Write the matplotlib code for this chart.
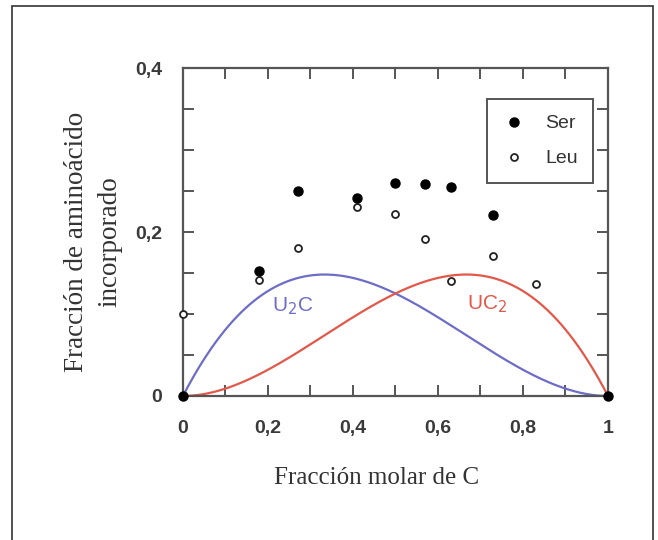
import numpy as np
import matplotlib
matplotlib.use("Agg")
import matplotlib.pyplot as plt
from matplotlib.patches import Rectangle
from matplotlib.ticker import MultipleLocator, FixedLocator, FuncFormatter

ser_x = [0.0, 0.18, 0.27, 0.41, 0.50, 0.57, 0.63, 0.73, 1.0]
ser_y = [0.0, 0.152, 0.250, 0.241, 0.260, 0.258, 0.255, 0.221, 0.0]
leu_x = [0.0, 0.18, 0.27, 0.41, 0.50, 0.57, 0.63, 0.73, 0.83]
leu_y = [0.100, 0.141, 0.180, 0.231, 0.222, 0.191, 0.140, 0.171, 0.137]

# curvas teóricas de los complejos U2C y UC2
xc = np.linspace(0, 1, 300)
u2c = xc * (1 - xc) ** 2
uc2 = xc ** 2 * (1 - xc)

gris = "#555555"
fig = plt.figure(figsize=(6.58, 5.40), dpi=100)
fig.patches.append(Rectangle((12 / 658, -0.05), 641 / 658, 1.05 - 6 / 540,
                             transform=fig.transFigure, fill=False,
                             edgecolor="#333333", linewidth=1.2))

ax = fig.add_axes([0.278, 0.2667, 0.646, 0.6073])
ax.plot(xc, u2c, color="#6d6dc8", lw=1.6, zorder=2)
ax.plot(xc, uc2, color="#e2584a", lw=1.6, zorder=2)
ax.plot(ser_x, ser_y, "o", color="black", ms=6.5, label="Ser", zorder=4, clip_on=False)
ax.plot(leu_x, leu_y, "o", mfc="white", mec="#222222", mew=1.3, ms=5, label="Leu",
        zorder=3, clip_on=False)

ax.text(0.21, 0.103, "U$_2$C", color="#6d6dc8", fontsize=15, family="Liberation Sans")
ax.text(0.668, 0.105, "UC$_2$", color="#e2584a", fontsize=15, family="Liberation Sans")

ax.set_xlim(0, 1)
ax.set_ylim(0, 0.4)
ax.xaxis.set_major_locator(FixedLocator([0, 0.2, 0.4, 0.6, 0.8, 1]))
ax.xaxis.set_minor_locator(MultipleLocator(0.1))
ax.yaxis.set_major_locator(FixedLocator([0, 0.2, 0.4]))
ax.yaxis.set_minor_locator(MultipleLocator(0.05))
fmt = FuncFormatter(lambda v, p: "0" if v == 0 else ("1" if v == 1 else f"{v:.1f}".replace(".", ",")))
ax.xaxis.set_major_formatter(fmt)
ax.yaxis.set_major_formatter(fmt)
ax.tick_params(which="both", direction="in", top=True, right=True, length=8,
               width=1.4, color=gris)
ax.tick_params(which="major", labelsize=14, labelcolor="#3a3a3a")
ax.tick_params(axis="x", which="major", pad=17)
ax.tick_params(axis="y", which="major", pad=15)
for lab in ax.get_xticklabels() + ax.get_yticklabels():
    lab.set_family("Liberation Sans")
    lab.set_fontweight("bold")
for s in ax.spines.values():
    s.set_color(gris)
    s.set_linewidth(1.6)

ax.set_xlabel("Fracción molar de C", family="Liberation Serif", fontsize=18,
              color="#333333")
ax.xaxis.set_label_coords(0.455, -0.218)
ax.xaxis.label.set_verticalalignment("top")
ax.set_ylabel("Fracción de aminoácido\nincorporado", family="Liberation Serif",
              fontsize=19.5, color="#333333", linespacing=1.45)
ax.yaxis.set_label_coords(-0.143, 0.47)

leg = ax.legend(loc="upper right", bbox_to_anchor=(0.965, 0.905), fancybox=False,
                edgecolor=gris, framealpha=1, prop={"family": "Liberation Sans", "size": 14},
                handlelength=1.2, handletextpad=1.0, labelspacing=0.9,
                borderpad=0.8, borderaxespad=0)
leg.get_frame().set_linewidth(1.4)
for t in leg.get_texts():
    t.set_color("#333333")

fig.savefig("out.png", dpi=100)
